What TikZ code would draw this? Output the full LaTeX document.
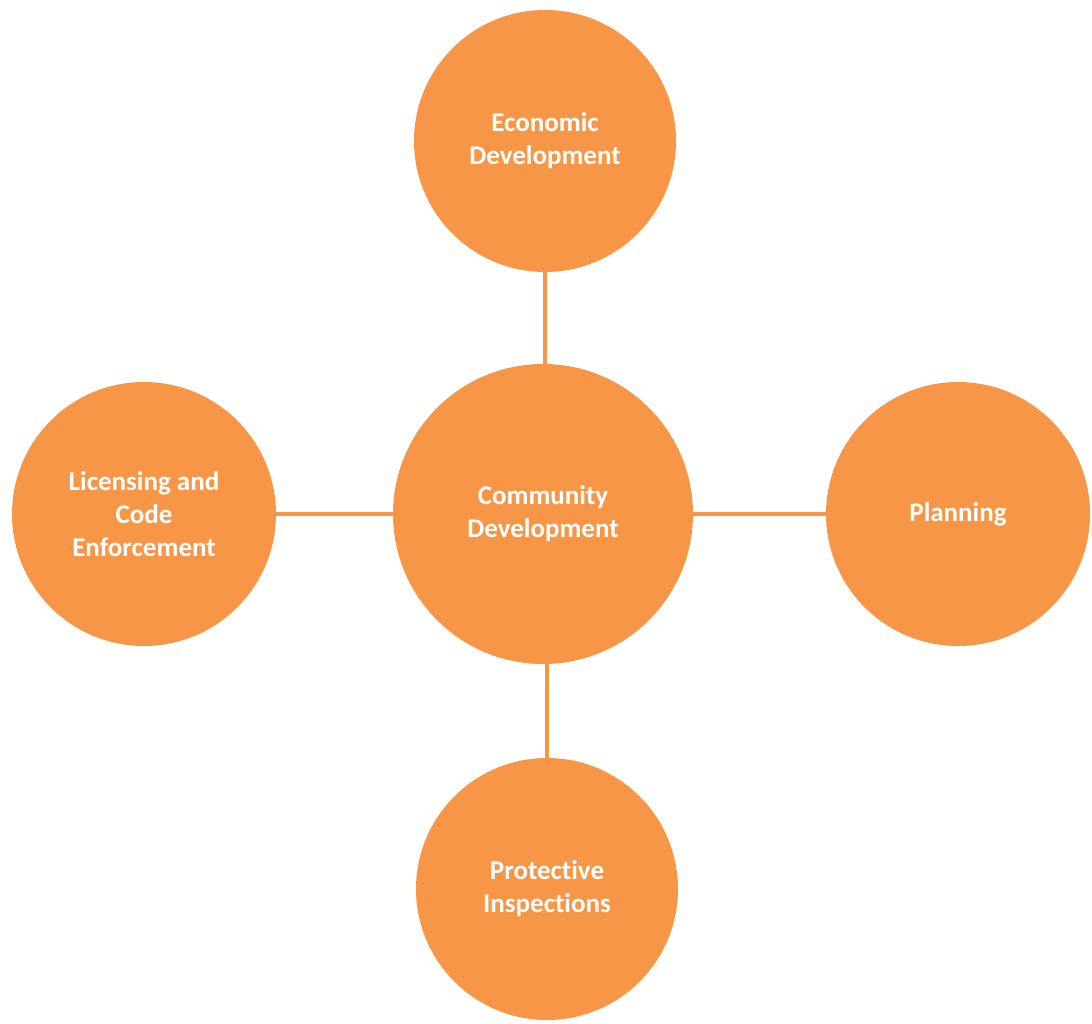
\documentclass[tikz,border=0pt]{standalone}
\usepackage{fontspec}
\setmainfont{Carlito}[Ligatures=NoCommon]
\begin{document}
\begin{tikzpicture}[x=1pt,y=-1pt,
  bubble/.style={circle, fill=bubbleorange, draw=none, inner sep=0pt,
    text=white, align=center,
    font=\bfseries\fontsize{27}{33}\selectfont},
  link/.style={draw=bubbleorange, line width=4pt}]
  \definecolor{bubbleorange}{HTML}{F79646}
  \useasboundingbox (0,0) rectangle (1092,1024);

  % hub and its four branches
  \node[bubble, minimum size=300pt] (com) at (543,514) {Community\\Development};
  \node[bubble, minimum size=262pt] (eco) at (545,141) {Economic\\Development};
  \node[bubble, minimum size=264pt] (lic) at (144,514) {Licensing and\\Code\\Enforcement};
  \node[bubble, minimum size=264pt] (pla) at (958,514) {Planning};
  \node[bubble, minimum size=262pt] (pro) at (547,889) {Protective\\Inspections};

  % spokes
  \path[link] (eco) -- (eco |- com.north);
  \path[link] (pro) -- (pro |- com.south);
  \path[link] (lic) -- (com);
  \path[link] (com) -- (pla);
\end{tikzpicture}
\end{document}
